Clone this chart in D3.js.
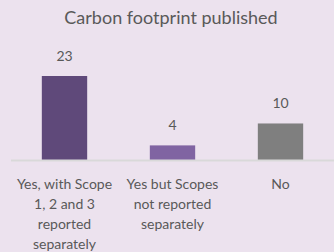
<!DOCTYPE html>
<html><head><meta charset="utf-8">
<script src="https://cdn.jsdelivr.net/npm/d3@7"></script>
<style>html,body{margin:0;padding:0;background:#ece2ee;}svg{display:block;}</style>
</head><body>
<script>
const categories = ["Yes, with Scope 1, 2 and 3 reported separately", "Yes but Scopes not reported separately", "No"];
const categoryLines = [["Yes, with Scope","1, 2 and 3","reported","separately"],["Yes but Scopes","not reported","separately"],["No"]];
const values = [23, 4, 10];
const colors = ["#5f497a", "#8064a2", "#7f7f7f"];
const title = "Carbon footprint published";

const W = 334, H = 252;
const svg = d3.select("body").append("svg").attr("width", W).attr("height", H);
svg.append("rect").attr("width", W).attr("height", H).attr("fill", "#ece2ee");

const x = d3.scaleBand().domain(categories).range([10.5, 334.5]).paddingInner(0.58).paddingOuter(0.29);
const y = d3.scaleLinear().domain([0, 23]).range([160, 76]);

svg.append("text").attr("x", 171).attr("y", 24).attr("text-anchor", "middle")
  .attr("font-family", "Lato, sans-serif").attr("font-size", 18).attr("fill", "#595959")
  .text(title);

svg.selectAll("rect.bar").data(values).join("rect").attr("class", "bar")
  .attr("x", (d, i) => x(categories[i])).attr("width", x.bandwidth())
  .attr("y", d => y(d)).attr("height", d => y(0) - y(d))
  .attr("fill", (d, i) => colors[i]);

svg.append("line").attr("x1", 11).attr("x2", 334).attr("y1", 160.5).attr("y2", 160.5)
  .attr("stroke", "#d9d9d9").attr("stroke-width", 2);

svg.selectAll("text.val").data(values).join("text").attr("class", "val")
  .attr("x", (d, i) => x(categories[i]) + x.bandwidth() / 2)
  .attr("y", d => y(d) - 15).attr("text-anchor", "middle")
  .attr("font-family", "Lato, sans-serif").attr("font-size", 14).attr("fill", "#595959")
  .text(d => d);

const g = svg.selectAll("text.cat").data(categories).join("text").attr("class", "cat")
  .attr("text-anchor", "middle")
  .attr("font-family", "Lato, sans-serif").attr("font-size", 14).attr("fill", "#595959");
g.each(function(d, i) {
  const cx = x(d) + x.bandwidth() / 2;
  d3.select(this).selectAll("tspan").data(categoryLines[i]).join("tspan")
    .attr("x", cx).attr("y", (l, j) => 189 + j * 20).text(l => l);
});
</script>
</body></html>
